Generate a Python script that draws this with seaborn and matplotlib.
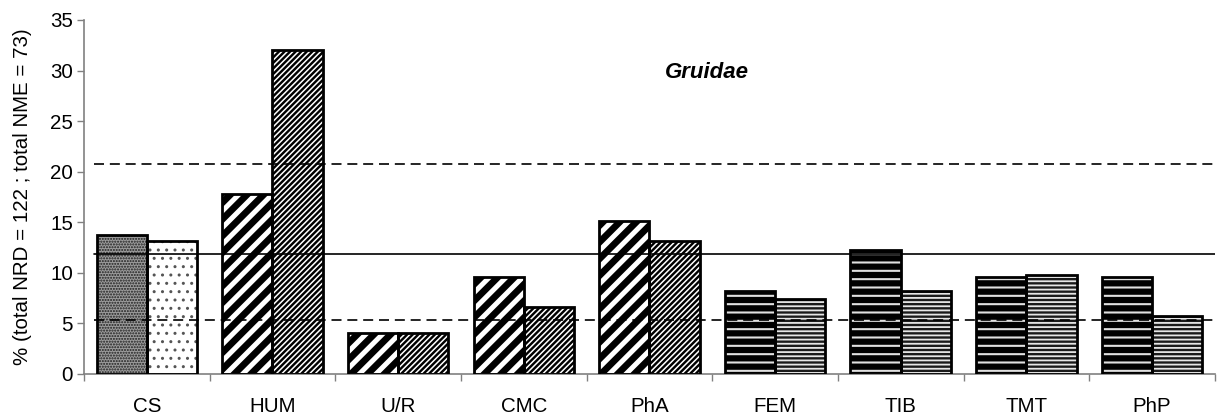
import matplotlib
matplotlib.use("Agg")
import matplotlib.pyplot as plt
from matplotlib.patches import Rectangle
import seaborn as sns
import pandas as pd

# ---- data ----
categories = ["CS", "HUM", "U/R", "CMC", "PhA", "FEM", "TIB", "TMT", "PhP"]
series_names = ["NME", "NRD"]
nme_values = [13.7, 17.8, 4.1, 9.6, 15.1, 8.2, 12.3, 9.6, 9.6]
nrd_values = [13.1, 32.0, 4.1, 6.6, 13.1, 7.4, 8.2, 9.8, 5.7]
mean_line = 11.9
upper_line = 20.8
lower_line = 5.3
title_text = "Gruidae"
ylabel_text = "% (total NRD = 122 ; total NME = 73)"
yticks = [0, 5, 10, 15, 20, 25, 30, 35]

# hatch style group per category: (series 1 style, series 2 style)
group_styles = {
    "CS": ("crossdot", "dots"),
    "HUM": ("wide_diag", "fine_diag"),
    "U/R": ("wide_diag", "fine_diag"),
    "CMC": ("wide_diag", "fine_diag"),
    "PhA": ("wide_diag", "fine_diag"),
    "FEM": ("wide_horiz", "fine_horiz"),
    "TIB": ("wide_horiz", "fine_horiz"),
    "TMT": ("wide_horiz", "fine_horiz"),
    "PhP": ("wide_horiz", "fine_horiz"),
}
styles = {
    "crossdot": dict(face="#9c9c9c", hatch="......", hc="#1e1e1e", hlw=1.0),
    "dots": dict(face="white", hatch="..", hc="#555555", hlw=1.0),
    "wide_diag": dict(face="black", hatch="//", hc="white", hlw=3.6),
    "fine_diag": dict(face="black", hatch="//////", hc="white", hlw=1.1),
    "wide_horiz": dict(face="black", hatch="--", hc="#e0e0e0", hlw=1.5),
    "fine_horiz": dict(face="#1a1a1a", hatch="----", hc="#e6e6e6", hlw=1.3),
}

df = pd.DataFrame({
    "bone": categories * 2,
    "series": [series_names[0]] * len(categories) + [series_names[1]] * len(categories),
    "pct": nme_values + nrd_values,
})

sns.set_style("white")
plt.rcParams["font.family"] = ["Liberation Sans", "DejaVu Sans"]
plt.rcParams["text.color"] = "black"
plt.rcParams["axes.labelcolor"] = "black"
plt.rcParams["xtick.color"] = "black"
plt.rcParams["ytick.color"] = "black"

FS = 14.8

fig = plt.figure(figsize=(12.21, 4.16), dpi=100)
ax = fig.add_axes([0.0688, 0.101, 0.9262, 0.851])

sns.barplot(data=df, x="bone", y="pct", hue="series", order=categories,
            hue_order=series_names, palette=["black", "white"], width=0.8,
            saturation=1, legend=False, ax=ax, zorder=2)

for si, cont in enumerate(ax.containers):
    for ci, p in enumerate(cont.patches):
        st = styles[group_styles[categories[ci]][si]]
        p.set_facecolor(st["face"])
        p.set_edgecolor(st["hc"])
        p.set_hatch(st["hatch"])
        p.set_linewidth(0)
        try:
            p.set_hatch_linewidth(st["hlw"])
        except AttributeError:
            pass
        ax.add_patch(Rectangle(p.get_xy(), p.get_width(), p.get_height(),
                               fill=False, edgecolor="black", linewidth=2.0,
                               zorder=3))

ax.axhline(mean_line, xmin=0.009, xmax=1, color="black", lw=1.2, zorder=4)
for v in (upper_line, lower_line):
    ax.axhline(v, xmin=0.009, xmax=1, color="black", lw=1.2,
               dashes=(6, 3.5), zorder=4)

ax.set_xlim(-0.5, len(categories) - 0.5)
ax.set_ylim(0, 35)
ax.set_yticks(yticks)
ax.set_xticks(range(len(categories)))
ax.set_xticklabels(categories)
ax.set_xticks([i + 0.5 for i in range(-1, len(categories))], minor=True)
ax.tick_params(axis="x", which="major", length=0, pad=16.5, labelsize=FS,
               labelcolor="black")
ax.tick_params(axis="x", which="minor", length=5, width=1, color="#808080",
               direction="out", bottom=True)
ax.tick_params(axis="y", length=5, width=1, color="#808080", direction="out",
               left=True, labelsize=FS, labelcolor="black", pad=3)
ax.set_xlabel("")
ax.set_ylabel(ylabel_text, fontsize=FS, color="black")
ax.yaxis.set_label_coords(-0.046, 0.5)

for s in ("top", "right"):
    ax.spines[s].set_visible(False)
for s in ("left", "bottom"):
    ax.spines[s].set_color("#808080")
    ax.spines[s].set_linewidth(1.2)

ax.text(0.551, 0.853, title_text, transform=ax.transAxes, fontsize=16,
        fontweight="bold", fontstyle="italic", ha="center", va="center",
        color="black")

fig.savefig("out.png", dpi=100)
